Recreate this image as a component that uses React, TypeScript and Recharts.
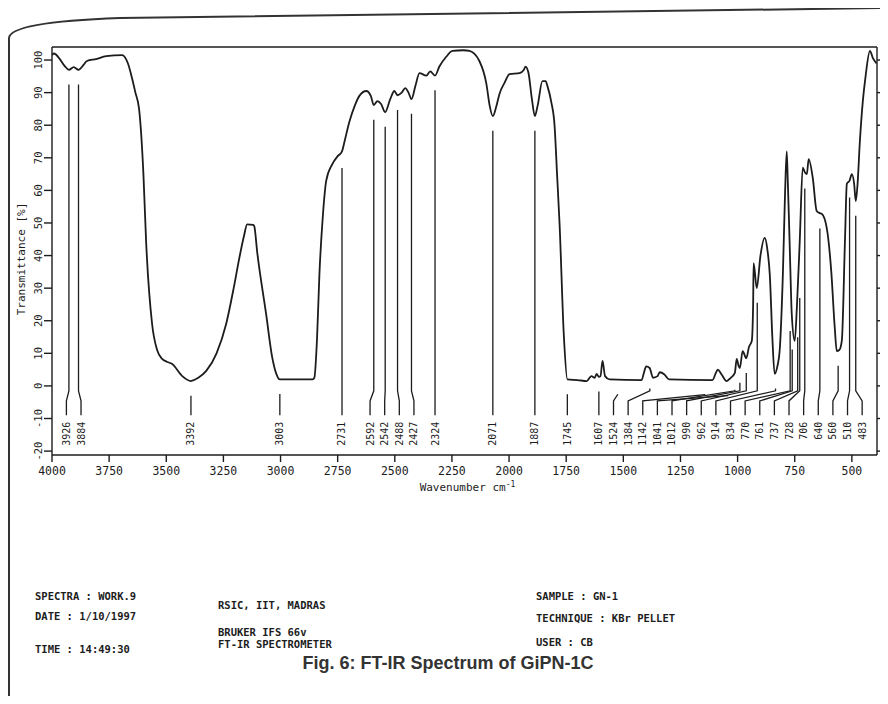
import React from "react";
import { ComposedChart, Line, Scatter, XAxis, YAxis } from "recharts";

// spectrum: wavenumber (cm-1) and transmittance (%)
const wavenumbers = [
  4000, 3991, 3969, 3945, 3926, 3905, 3884, 3862, 3847, 3807, 3763, 3693, 3668, 3650, 3635, 3619,
  3600, 3588, 3562, 3540, 3518, 3500, 3474, 3430, 3392, 3360, 3325, 3280, 3238, 3205, 3181, 3160,
  3146, 3120, 3115, 3102, 3063, 3036, 3020, 3003, 2860, 2852, 2840, 2830, 2815, 2800, 2774, 2750,
  2731, 2720, 2699, 2675, 2655, 2625, 2605, 2592, 2576, 2560, 2542, 2520, 2502, 2488, 2470, 2454,
  2440, 2427, 2410, 2392, 2362, 2345, 2324, 2305, 2275, 2248, 2200, 2173, 2130, 2099, 2085, 2071,
  2055, 2042, 2020, 1998, 1954, 1935, 1928, 1915, 1900, 1887, 1875, 1854, 1840, 1832, 1815, 1801,
  1790, 1779, 1760, 1745, 1700, 1660, 1640, 1625, 1617, 1607, 1600, 1591, 1580, 1560, 1420, 1410,
  1400, 1385, 1370, 1350, 1341, 1320, 1300, 1110, 1095, 1087, 1070, 1048, 1030, 1012, 1004, 995,
  990, 978, 962, 950, 938, 932, 930, 916, 900, 881, 870, 859, 848, 838, 826, 816, 802, 792, 785,
  780, 776, 770, 763, 750, 740, 728, 715, 705, 697, 689, 671, 654, 640, 632, 610, 590, 575, 566,
  555, 544, 530, 522, 510, 500, 490, 483, 475, 465, 452, 440, 421, 408, 392,
];
const transmittance = [
  101.5, 102, 100.6, 98.2, 97, 97.8, 97, 98.5, 99.7, 100.3, 101.2, 101.5, 99, 94.5, 90, 85,
  65, 44, 19, 11, 8.3, 7.5, 6.7, 3, 1.5, 2.5, 4.6, 10, 19, 30, 39, 46,
  49.6, 49.4, 49, 41, 22, 8.6, 4, 2, 2, 2.5, 15, 34, 52, 63, 68, 70.5,
  72, 75, 81, 86, 89, 90.5, 89, 86.2, 87.4, 86.5, 84, 88, 90.5, 89.2, 90, 91.4,
  90, 88, 92, 96, 95.2, 96.5, 95.2, 98, 101, 102.8, 103, 102.8, 99.7, 92.6, 86, 82.8,
  86, 89.6, 93, 95.7, 96, 97, 98, 96, 88, 82.8, 86, 93.5, 93.5, 92, 87, 80,
  65, 49.7, 15, 2, 1.8, 1.5, 3, 2.5, 3.7, 2.8, 3, 7.7, 3, 2, 1.8, 4,
  6, 5.5, 2.5, 3, 4.2, 3.5, 2, 1.8, 4, 5, 3.5, 1.5, 2.5, 4, 8.3, 6,
  5.5, 10.7, 8.5, 12, 13.8, 25, 37.7, 30, 40, 45.4, 42, 34, 15, 3.7, 6, 10.7, 34, 60, 72,
  62, 53, 38, 22, 13.8, 25, 44.5, 67, 65.5, 65, 69.6, 63.8, 53.7, 53, 52.8, 48.5, 35, 18, 10.7,
  11, 13.8, 45, 62, 63, 65, 62, 56.7, 62, 75, 87.4, 95, 102.8, 100.6, 99,
];

// labelled absorption bands
const peakLabels = [
  3926, 3884, 3392, 3003, 2731, 2592, 2542, 2488, 2427, 2324, 2071, 1887, 1745, 1607, 1524, 1384,
  1142, 1041, 1012, 990, 962, 914, 834, 770, 761, 737, 728, 706, 640, 560, 510, 483,
];

const xTicks = [4000, 3750, 3500, 3250, 3000, 2750, 2500, 2250, 2000, 1750, 1500, 1250, 1000, 750, 500];
const yTicks = [-20, -10, 0, 10, 20, 30, 40, 50, 60, 70, 80, 90, 100];

const MONO = "'DejaVu Sans Mono', monospace";
const INK = "#1c1c1c";
const LABEL_GAP = 64; // cm-1 kept between neighbouring band labels
const LABEL_MIN_WN = 455;

const spectrum = wavenumbers.map((wn, i) => ({ wn, t: transmittance[i] }));

function valueAt(w: number) {
  for (let i = 0; i < wavenumbers.length - 1; i++) {
    const a = wavenumbers[i];
    const b = wavenumbers[i + 1];
    if (w <= a && w >= b) {
      const f = (a - w) / (a - b);
      return transmittance[i] + f * (transmittance[i + 1] - transmittance[i]);
    }
  }
  return transmittance[transmittance.length - 1];
}

function localMin(w: number) {
  let m = Math.min(valueAt(w - 8), valueAt(w), valueAt(w + 8));
  wavenumbers.forEach((x, i) => {
    if (Math.abs(x - w) <= 8) m = Math.min(m, transmittance[i]);
  });
  return m;
}

// push labels apart so they don't overlap, keeping them inside the frame
function spreadLabels(peaks: number[]) {
  const u = peaks.map((p) => 4000 - p);
  for (let k = 0; k < 3000; k++) {
    for (let i = 0; i < u.length - 1; i++) {
      const d = u[i + 1] - u[i];
      if (d < LABEL_GAP) {
        const s = (LABEL_GAP - d) / 2;
        u[i] -= s;
        u[i + 1] += s;
      }
    }
    for (let i = 0; i < u.length; i++) u[i] = Math.min(u[i], 4000 - LABEL_MIN_WN);
  }
  return u.map((v) => 4000 - v);
}

const labelPos = spreadLabels(peakLabels);

const leaders = peakLabels.map((p, i) => {
  const l = labelPos[i];
  const top = localMin(p) - 4.5;
  if (Math.abs(l - p) < 1.5) return [{ wn: p, t: -9 }, { wn: p, t: top }];
  const knee = Math.min(-1.5, top);
  return [
    { wn: l, t: -9 },
    { wn: l, t: -4.6 },
    { wn: p, t: knee },
    { wn: p, t: top },
  ];
});

const labelPts = peakLabels.map((p, i) => ({ wn: labelPos[i], t: -11, text: String(p) }));

const LabelShape = (props: any) => {
  const { cx, cy, payload } = props;
  return (
    <text
      x={cx + 3.5}
      y={cy}
      transform={`rotate(-90 ${cx + 3.5} ${cy})`}
      textAnchor="end"
      fontFamily={MONO}
      fontSize={10}
      fill={INK}
    >
      {payload.text}
    </text>
  );
};

const YTick = (props: any) => {
  const { x, y, payload } = props;
  return (
    <text
      x={x}
      y={y}
      transform={`rotate(-90 ${x} ${y})`}
      textAnchor="middle"
      fontFamily={MONO}
      fontSize={10.5}
      fill={INK}
    >
      {payload.value}
    </text>
  );
};

const info: { text: string; x: number; y: number }[] = [
  { text: "SPECTRA : WORK.9", x: 35, y: 591 },
  { text: "DATE : 1/10/1997", x: 35, y: 611 },
  { text: "TIME : 14:49:30", x: 35, y: 644 },
  { text: "RSIC, IIT, MADRAS", x: 218, y: 600 },
  { text: "BRUKER IFS 66v", x: 218, y: 627 },
  { text: "FT-IR SPECTROMETER", x: 218, y: 639 },
  { text: "SAMPLE : GN-1", x: 536, y: 591 },
  { text: "TECHNIQUE : KBr PELLET", x: 536, y: 613 },
  { text: "USER : CB", x: 536, y: 637 },
];

export default function App() {
  return (
    <div style={{ position: "relative", width: 888, height: 704, margin: -8, background: "#fff", overflow: "hidden" }}>
      <ComposedChart width={888} height={704} margin={{ top: 17, right: 0, bottom: 204, left: 0 }}>
        <XAxis
          xAxisId="bottom"
          dataKey="wn"
          type="number"
          domain={[390, 4000]}
          reversed
          allowDataOverflow
          ticks={xTicks}
          height={45}
          tickSize={7}
          tickMargin={5}
          stroke={INK}
          strokeWidth={1.4}
          tick={{ fontFamily: MONO, fontSize: 11.5, fill: INK }}
          label={{
            content: ({ viewBox }: any) => (
              <text x={viewBox.x + viewBox.width / 2 + 3} y={viewBox.y + 36} textAnchor="middle" fontFamily={MONO} fontSize={11} fill={INK}>
                Wavenumber cm
                <tspan dy={-4} fontSize={8}>-1</tspan>
              </text>
            ),
          }}
        />
        <XAxis
          xAxisId="top"
          orientation="top"
          type="number"
          domain={[390, 4000]}
          reversed
          allowDataOverflow
          ticks={xTicks.slice(1)}
          height={30}
          tickSize={8}
          stroke={INK}
          strokeWidth={1.4}
          tickFormatter={() => ""}
        />
        <YAxis
          yAxisId="left"
          dataKey="t"
          type="number"
          domain={[-21.2, 104]}
          allowDataOverflow
          ticks={yTicks}
          width={52}
          tickSize={8}
          tickMargin={2}
          stroke={INK}
          strokeWidth={1.4}
          tick={<YTick />}
          label={{
            content: ({ viewBox }: any) => {
              const cy = viewBox.y + viewBox.height / 2 + 8;
              return (
                <text x={25} y={cy} transform={`rotate(-90 25 ${cy})`} textAnchor="middle" fontFamily={MONO} fontSize={11} fill={INK}>
                  Transmittance [%]
                </text>
              );
            },
          }}
        />
        <YAxis
          yAxisId="right"
          orientation="right"
          type="number"
          domain={[-21.2, 104]}
          allowDataOverflow
          ticks={yTicks}
          width={11}
          tickSize={7}
          stroke={INK}
          strokeWidth={1.4}
          tickFormatter={() => ""}
        />
        <Line
          xAxisId="bottom"
          yAxisId="left"
          data={spectrum}
          dataKey="t"
          type="monotoneX"
          stroke={INK}
          strokeWidth={1.8}
          dot={false}
          isAnimationActive={false}
        />
        {leaders.map((pts, i) => (
          <Line
            key={`lead-${i}`}
            xAxisId="bottom"
            yAxisId="left"
            data={pts}
            dataKey="t"
            type="linear"
            stroke={INK}
            strokeWidth={1.3}
            dot={false}
            isAnimationActive={false}
          />
        ))}
        <Scatter
          xAxisId="bottom"
          yAxisId="left"
          data={labelPts}
          dataKey="t"
          shape={<LabelShape />}
          isAnimationActive={false}
        />
      </ComposedChart>

      {info.map((d) => (
        <div
          key={d.text}
          style={{
            position: "absolute",
            left: d.x,
            top: d.y,
            fontFamily: MONO,
            fontSize: 10.5,
            fontWeight: "bold",
            lineHeight: "11px",
            color: INK,
            whiteSpace: "nowrap",
          }}
        >
          {d.text}
        </div>
      ))}
      <div
        style={{
          position: "absolute",
          left: 0,
          width: 888,
          top: 653,
          lineHeight: "20px",
          textAlign: "center",
          fontFamily: "'Liberation Sans', Arial, sans-serif",
          fontWeight: "bold",
          fontSize: 18,
          color: "#333",
          paddingLeft: 4,
        }}
      >
        Fig. 6: FT-IR Spectrum of GiPN-1C
      </div>

      {/* edges of the scanned page */}
      <svg width={888} height={704} style={{ position: "absolute", left: 0, top: 0, pointerEvents: "none" }}>
        <path d="M 9 704 L 9 38 Q 10 22 120 18 L 888 8" fill="none" stroke="#333" strokeWidth={2} />
        <path d="M 9 697 L 888 697" fill="none" stroke="#555" strokeWidth={2} />
      </svg>
    </div>
  );
}
